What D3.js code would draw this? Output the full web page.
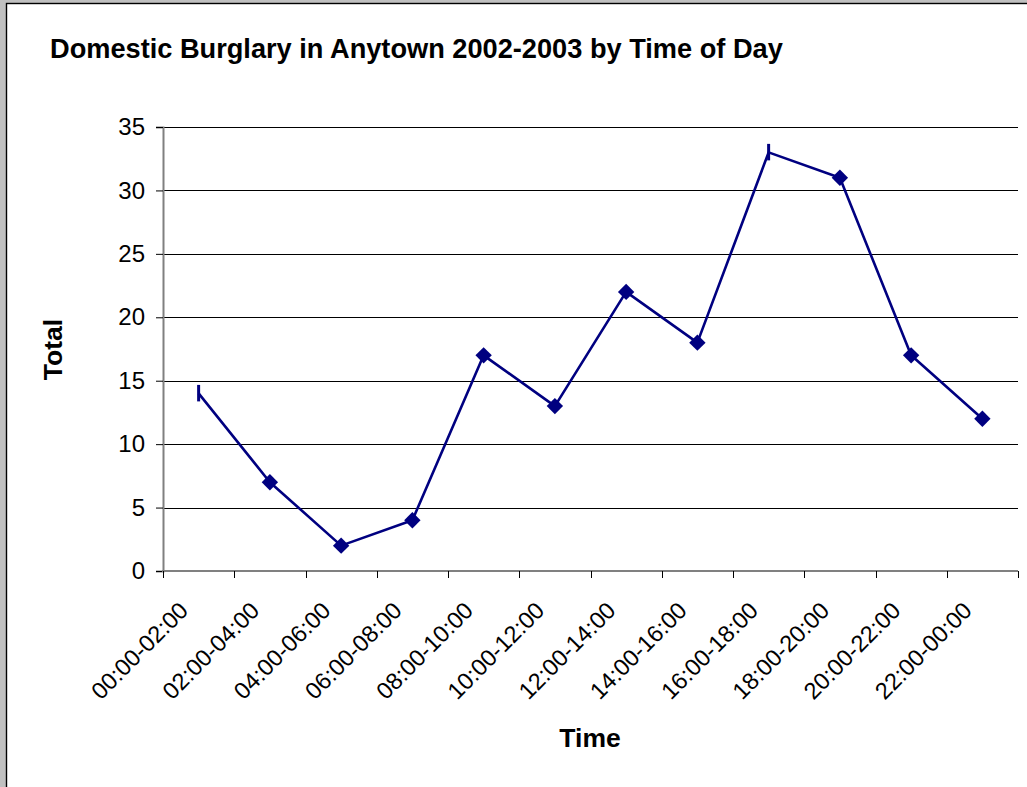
<!DOCTYPE html>
<html>
<head>
<meta charset="utf-8">
<script src="https://cdn.jsdelivr.net/npm/d3@7"></script>
<style>
  html, body { margin: 0; padding: 0; background: #c0c0c0; }
  svg { display: block; font-family: "Liberation Sans", Arial, sans-serif; }
</style>
</head>
<body>
<svg id="chart" width="1027" height="787"></svg>
<script>
// Burglary counts per two-hour period
const timeBands = ["00:00-02:00", "02:00-04:00", "04:00-06:00", "06:00-08:00",
  "08:00-10:00", "10:00-12:00", "12:00-14:00", "14:00-16:00",
  "16:00-18:00", "18:00-20:00", "20:00-22:00", "22:00-00:00"];
const totals = [14, 7, 2, 4, 17, 13, 22, 18, 33, 31, 17, 12];
const yTicks = [0, 5, 10, 15, 20, 25, 30, 35];
// periods whose marker renders squashed to a thin bar
const squashedMarkers = ["00:00-02:00", "16:00-18:00"];

const svg = d3.select("#chart");

// chart area frame
svg.append("rect")
  .attr("x", 6.5).attr("y", 3.5)
  .attr("width", 1100).attr("height", 1000)
  .attr("fill", "#ffffff").attr("stroke", "#000000").attr("stroke-width", 1.4);

const plot = { left: 163, right: 1018, top: 127, bottom: 571 };

const x = d3.scaleBand().domain(timeBands).range([plot.left, plot.right]);
const y = d3.scaleLinear().domain([0, 35]).range([plot.bottom, plot.top]);

// horizontal gridlines
svg.append("g")
  .selectAll("line")
  .data(yTicks.filter(d => d > 0))
  .join("line")
  .attr("x1", plot.left).attr("x2", plot.right)
  .attr("y1", d => Math.round(y(d)) + 0.5).attr("y2", d => Math.round(y(d)) + 0.5)
  .attr("stroke", "#000000").attr("stroke-width", 1);

// y axis
const yAxis = svg.append("g")
  .attr("transform", `translate(${plot.left},0)`)
  .call(d3.axisLeft(y).tickValues(yTicks).tickSize(7).tickPadding(11).tickFormat(d3.format("d")));
yAxis.select(".domain").attr("stroke", "#808080").attr("stroke-width", 2);
yAxis.selectAll(".tick line").attr("stroke", "#000000");
yAxis.selectAll(".tick text")
  .attr("font-size", 24).attr("fill", "#000000")
  .attr("font-family", "'Liberation Sans', Arial, sans-serif");

// x axis: ticks on category boundaries
const boundaries = timeBands.map(d => x(d)).concat([plot.right]);
const xAxis = svg.append("g");
xAxis.append("line")
  .attr("x1", plot.left - 1).attr("x2", plot.right)
  .attr("y1", plot.bottom).attr("y2", plot.bottom)
  .attr("stroke", "#808080").attr("stroke-width", 2);
xAxis.selectAll("line.tk")
  .data(boundaries)
  .join("line")
  .attr("class", "tk")
  .attr("x1", d => Math.round(d) + 0.5).attr("x2", d => Math.round(d) + 0.5)
  .attr("y1", plot.bottom).attr("y2", plot.bottom + 7)
  .attr("stroke", "#000000").attr("stroke-width", 1);
xAxis.selectAll("text")
  .data(timeBands)
  .join("text")
  .attr("transform", d => `translate(${x(d) + x.bandwidth() / 2 - 9},${plot.bottom + 41}) rotate(-45)`)
  .attr("text-anchor", "end")
  .attr("font-size", 23.5)
  .attr("fill", "#000000")
  .text(d => d);

// series line
const cx = d => x(d) + x.bandwidth() / 2;
const points = timeBands.map((t, i) => ({ t, v: totals[i] }));

svg.append("path")
  .datum(points)
  .attr("fill", "none")
  .attr("stroke", "#000080")
  .attr("stroke-width", 2.6)
  .attr("stroke-linejoin", "round")
  .attr("d", d3.line().x(p => cx(p.t)).y(p => y(p.v)));

// markers: diamonds, a thin vertical bar where the marker is squashed
svg.append("g")
  .selectAll("path")
  .data(points)
  .join("path")
  .attr("transform", p => `translate(${cx(p.t)},${y(p.v)})`)
  .attr("fill", "#000080")
  .attr("d", p => {
    if (squashedMarkers.includes(p.t)) {
      return "M-1.5,-8.5L1.5,-8.5L1.5,8L-1.5,8Z";
    }
    const h = 8.2;
    return `M0,${-h}L${h},0L0,${h}L${-h},0Z`;
  });

// titles
svg.append("text")
  .attr("x", 50).attr("y", 58)
  .attr("font-size", 27.2).attr("font-weight", "bold")
  .text("Domestic Burglary in Anytown 2002-2003 by Time of Day");

svg.append("text")
  .attr("transform", "translate(62,349.5) rotate(-90)")
  .attr("text-anchor", "middle")
  .attr("font-size", 26.5).attr("font-weight", "bold")
  .text("Total");

svg.append("text")
  .attr("x", 590).attr("y", 747)
  .attr("text-anchor", "middle")
  .attr("font-size", 26.5).attr("font-weight", "bold")
  .text("Time");
</script>
</body>
</html>
